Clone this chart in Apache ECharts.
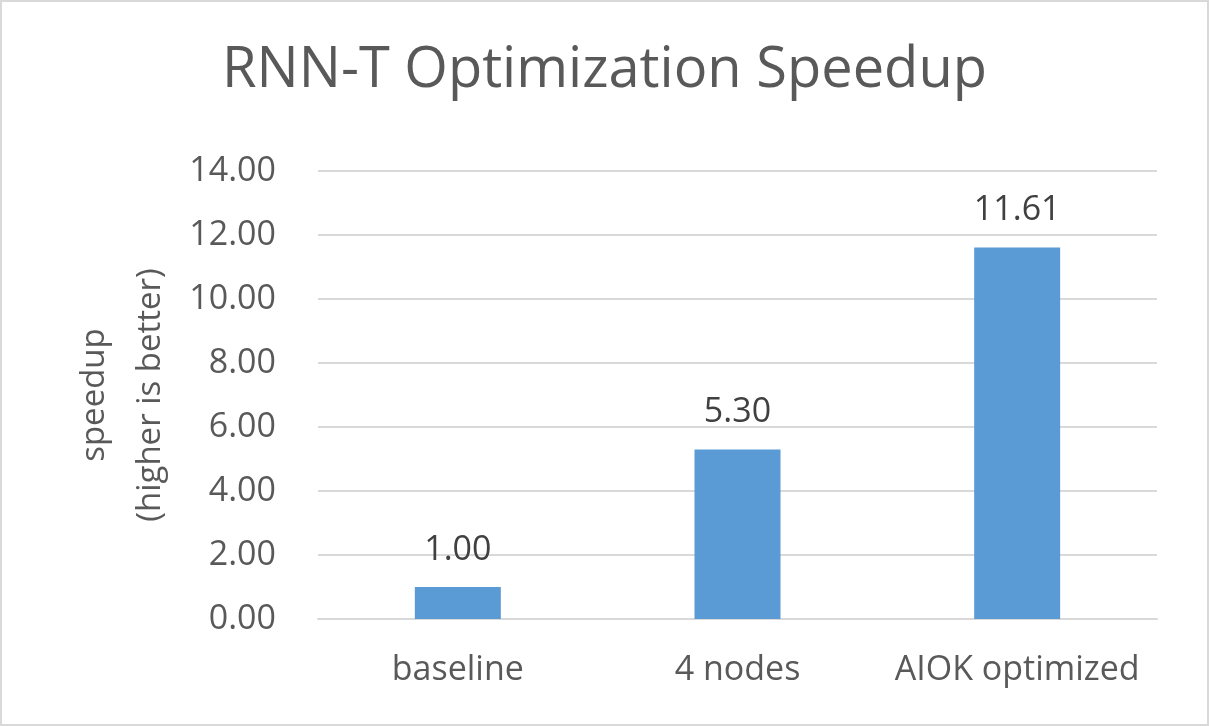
<!DOCTYPE html>
<html><head><meta charset="utf-8">
<script src="https://cdn.jsdelivr.net/npm/echarts@6/dist/echarts.min.js"></script>
<style>html,body{margin:0;padding:0;background:#fff}#c{width:1209px;height:726px;box-sizing:border-box;border:2px solid #D9D9D9}</style>
</head><body><div id="c"></div>
<script>
const categories = ['baseline', '4 nodes', 'AIOK optimized'];
const speedup = [1.00, 5.30, 11.61];
const yTicks = { min: 0, max: 14, interval: 2 };

const chart = echarts.init(document.getElementById('c'));
const font = 'Open Sans';
chart.setOption({
  animation: false,
  title: {
    text: 'RNN-T Optimization Speedup', left: 'center', top: 36,
    textStyle: { fontFamily: font, fontSize: 56, fontWeight: 'normal', color: '#595959' }
  },
  grid: { left: 316, right: 50, top: 169, bottom: 105 },
  xAxis: {
    type: 'category', data: categories,
    axisLine: { lineStyle: { color: '#D9D9D9', width: 2 } },
    axisTick: { show: false },
    axisLabel: { interval: 0, hideOverlap: false, fontFamily: font, fontSize: 34, color: '#595959', margin: 34 }
  },
  yAxis: {
    type: 'value', min: yTicks.min, max: yTicks.max, interval: yTicks.interval,
    name: 'speedup\n(higher is better)', nameLocation: 'middle', nameRotate: 90, nameGap: 133,
    nameTextStyle: { fontFamily: font, fontSize: 33, color: '#595959', lineHeight: 56, align: 'center' },
    axisLine: { show: false }, axisTick: { show: false },
    axisLabel: { fontFamily: font, fontSize: 34, color: '#595959', margin: 42, formatter: v => v.toFixed(2) },
    splitLine: { lineStyle: { color: '#D9D9D9', width: 2 } }
  },
  series: [{
    type: 'bar', data: speedup, barWidth: 86,
    itemStyle: { color: '#5B9BD5' },
    label: { show: true, position: 'top', distance: 20, fontFamily: font, fontSize: 34, color: '#404040', formatter: p => p.value.toFixed(2) }
  }]
});
</script></body></html>
